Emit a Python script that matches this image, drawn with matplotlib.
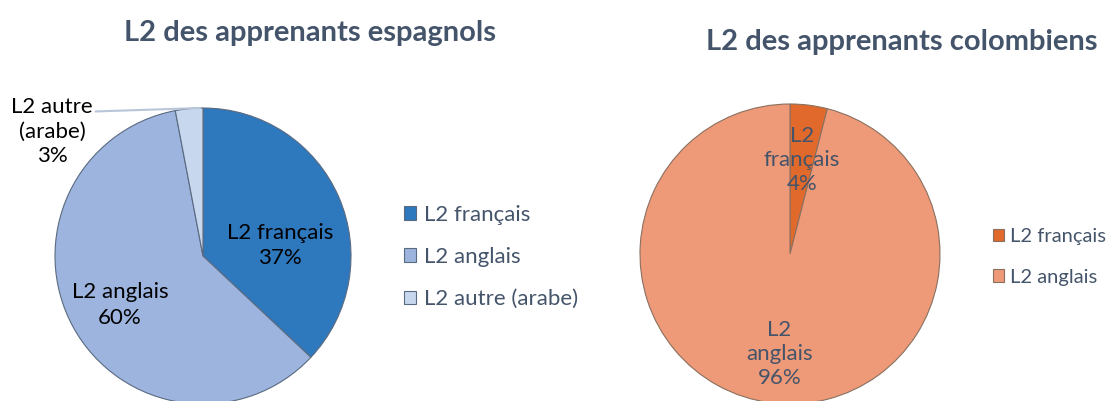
import matplotlib
matplotlib.use("Agg")
import matplotlib.pyplot as plt
import numpy as np

categories_esp = ["L2 français", "L2 anglais", "L2 autre (arabe)"]
valeurs_esp = [37, 60, 3]

categories_col = ["L2 français", "L2 anglais"]
valeurs_col = [4, 96]

couleurs_esp = ["#2E78BE", "#9CB4DE", "#C7D7EE"]
couleurs_col = ["#E0692B", "#EE9977"]

TEXTE = "#44546A"

plt.rcParams["font.family"] = ["Lato", "DejaVu Sans"]

W, H = 1108, 401
fig = plt.figure(figsize=(W / 100, H / 100), dpi=100)


def axe_pixels(cx, cy, r):
    """Axe carré centré sur (cx, cy) en pixels de l'image."""
    return fig.add_axes([(cx - r) / W, (H - cy - r) / H, 2 * r / W, 2 * r / H])


# ---------------------------------------------------------
# Camembert 1 : apprenants espagnols
# ---------------------------------------------------------
ax1 = axe_pixels(203, 256, 148)
wedges1, _ = ax1.pie(
    valeurs_esp, colors=couleurs_esp, startangle=90, counterclock=False,
    radius=1.0, wedgeprops=dict(edgecolor="#5a6a80", linewidth=0.8),
)
ax1.set_xlim(-1, 1)
ax1.set_ylim(-1, 1)
ax1.set_aspect("equal")
ax1.axis("off")

ax1.text(0.52, 0.07, f"L2 français\n{valeurs_esp[0]}%", ha="center", va="center",
         fontsize=16, color="black", linespacing=1.35)
ax1.text(-0.56, -0.33, f"L2 anglais\n{valeurs_esp[1]}%", ha="center", va="center",
         fontsize=16, color="black", linespacing=1.35)

# étiquette extérieure avec trait de rappel
ax1.annotate(f"L2 autre\n(arabe)\n{valeurs_esp[2]}%",
             xy=(-0.02, 1.0), xytext=(-1.02, 0.84),
             ha="center", va="center", fontsize=16, color="black",
             linespacing=1.3, annotation_clip=False,
             arrowprops=dict(arrowstyle="-", color="#b8c6da", lw=1.5,
                             relpos=(1.02, 0.79), shrinkA=0, shrinkB=0))

fig.text(310 / W, 1 - 33 / H, "L2 des apprenants espagnols", ha="center",
         va="center", fontsize=21, fontweight="bold", color=TEXTE)

fig.legend(wedges1, categories_esp, loc="center left",
           bbox_to_anchor=(384 / W, 1 - 257 / H), frameon=False,
           fontsize=16, labelcolor=TEXTE, handlelength=0.55, handleheight=0.55,
           handletextpad=0.35, labelspacing=1.0)

# ---------------------------------------------------------
# Camembert 2 : apprenants colombiens
# ---------------------------------------------------------
ax2 = axe_pixels(790, 254, 150)
wedges2, _ = ax2.pie(
    valeurs_col, colors=couleurs_col, startangle=90, counterclock=False,
    radius=1.0, wedgeprops=dict(edgecolor="#8a7060", linewidth=0.8),
)
ax2.set_xlim(-1, 1)
ax2.set_ylim(-1, 1)
ax2.set_aspect("equal")
ax2.axis("off")

ax2.text(0.08, 0.63, f"L2\nfrançais\n{valeurs_col[0]}%", ha="center", va="center",
         fontsize=16, color=TEXTE, linespacing=1.25)
ax2.text(-0.07, -0.67, f"L2\nanglais\n{valeurs_col[1]}%", ha="center", va="center",
         fontsize=16, color=TEXTE, linespacing=1.25)

fig.text(902 / W, 1 - 42 / H, "L2 des apprenants colombiens", ha="center",
         va="center", fontsize=21, fontweight="bold", color=TEXTE)

fig.legend(wedges2, categories_col, loc="center left",
           bbox_to_anchor=(975 / W, 1 - 257 / H), frameon=False,
           fontsize=14.5, labelcolor=TEXTE, handlelength=0.55, handleheight=0.55,
           handletextpad=0.3, labelspacing=1.15)

fig.savefig("out.png", dpi=100)
